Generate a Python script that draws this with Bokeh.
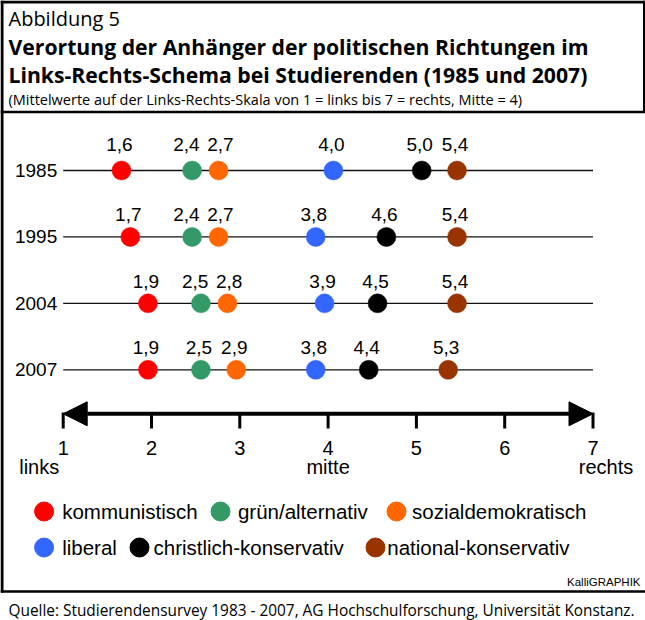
from bokeh.plotting import figure
from bokeh.models import Range1d, Label, Arrow, NormalHead, ColumnDataSource
from bokeh.core.properties import value
from bokeh.embed import file_html
from bokeh.resources import INLINE

# ---------------- data ----------------
years = ["1985", "1995", "2004", "2007"]
parties = ["kommunistisch", "grün/alternativ", "sozialdemokratisch",
           "liberal", "christlich-konservativ", "national-konservativ"]
colors = ["#ff0000", "#339966", "#ff6600", "#3366ff", "#000000", "#993300"]
kommunistisch = [1.6, 1.7, 1.9, 1.9]
gruen_alternativ = [2.4, 2.4, 2.5, 2.5]
sozialdemokratisch = [2.7, 2.7, 2.8, 2.9]
liberal = [4.0, 3.8, 3.9, 3.8]
christlich_konservativ = [5.0, 4.6, 4.5, 4.4]
national_konservativ = [5.4, 5.4, 5.4, 5.3]
series = [kommunistisch, gruen_alternativ, sozialdemokratisch,
          liberal, christlich_konservativ, national_konservativ]
scale_ticks = [1, 2, 3, 4, 5, 6, 7]
scale_tick_labels = ["1", "2", "3", "4", "5", "6", "7"]
pole_values = [1, 4, 7]
pole_labels = ["links", "mitte", "rechts"]

fig_label = "Abbildung 5"
title_lines = ["Verortung der Anhänger der politischen Richtungen im",
               "Links-Rechts-Schema bei Studierenden (1985 und 2007)"]
subtitle = "(Mittelwerte auf der Links-Rechts-Skala von 1 = links bis 7 = rechts, Mitte = 4)"
credit = "KalliGRAPHIK"
source_note = "Quelle: Studierendensurvey 1983 - 2007, AG Hochschulforschung, Universität Konstanz."

# ---------------- layout ----------------
W, H = 645, 620
PX1 = 62.7      # pixel of scale value 1
UNIT = 88.3     # pixels per scale unit
ROW0 = 170.0    # pixel of first row
ROWSTEP = 66.43
DOT_SHIFT = 0.06
x0 = 1 - PX1 / UNIT
x1 = 1 + (W - PX1) / UNIT
y_bot = (H - ROW0) / ROWSTEP
y_top = -ROW0 / ROWSTEP

CHART_FONT = value("Liberation Sans")
TXT_FONT = "Open Sans"

p = figure(width=W, height=H, x_range=Range1d(x0, x1), y_range=Range1d(y_bot, y_top),
           output_backend="svg", toolbar_location=None, min_border=0,
           x_axis_type=None, y_axis_type=None, outline_line_color=None,
           background_fill_color="white", border_fill_color="white")
p.grid.visible = False
p.extra_x_ranges = {"dots": Range1d(x0 - DOT_SHIFT, x1 - DOT_SHIFT), "px": Range1d(0, W)}
p.extra_y_ranges = {"px": Range1d(H, 0)}

rows = list(range(len(years)))

# frame lines
p.segment(x0=[1.5, 0, 643.5, 0, 0], x1=[1.5, W, 643.5, W, W],
          y0=[0, 1.5, 0, 111.5, 591], y1=[592, 1.5, 112, 111.5, 591],
          line_width=[3, 3, 2, 2.5, 2.5], line_color="black",
          x_range_name="px", y_range_name="px")

# row lines
p.segment(x0=[scale_ticks[0]] * len(years), x1=[scale_ticks[-1]] * len(years),
          y0=rows, y1=rows, line_color="#111111", line_width=1.3)

# year labels
p.text(x=[scale_ticks[0]] * len(years), y=rows, text=years, x_offset=-6, y_offset=0,
       text_align="right", text_baseline="middle",
       text_font=CHART_FONT, text_font_size="19px", text_color="black")

# value-label collision avoidance (screen pixels)
MIN_GAP = 34
label_dx = [[-2.0] * len(years) for _ in parties]
for r in rows:
    pos = [(s[r] + DOT_SHIFT - 1) * UNIT + PX1 - 2 for s in series]
    out = list(pos)
    order = sorted(range(len(pos)), key=lambda i: pos[i])
    for a, b in zip(order, order[1:]):
        d = out[b] - out[a]
        if d < MIN_GAP:
            push = (MIN_GAP - d) / 2
            out[a] -= push
            out[b] += push
    for i in range(len(series)):
        label_dx[i][r] = out[i] - pos[i] - 2

label_lift = [-26, -22, -22, -22]
for name, vals, col, dx in zip(parties, series, colors, label_dx):
    src = ColumnDataSource(dict(x=vals, y=rows,
                                lab=[f"{v:.1f}".replace(".", ",") for v in vals],
                                dy=label_lift, dx=dx))
    p.scatter(x="x", y="y", source=src, x_range_name="dots", size=19,
              fill_color=col, line_color=col, line_width=0.5)
    p.text(x="x", y="y", text="lab", source=src, x_range_name="dots",
           x_offset="dx", y_offset="dy",
           text_align="center", text_baseline="middle",
           text_font=CHART_FONT, text_font_size="19px", text_color="black")

# scale arrow
p.add_layout(Arrow(x_start=scale_ticks[0], x_end=scale_ticks[-1], y_start=413.3, y_end=413.3,
                   y_range_name="px", line_width=4, line_color="black",
                   start=NormalHead(size=24, fill_color="black", line_color="black", line_width=1),
                   end=NormalHead(size=24, fill_color="black", line_color="black", line_width=1)))
p.segment(x0=scale_ticks, x1=scale_ticks, y0=[412] * len(scale_ticks), y1=[428] * len(scale_ticks),
          y_range_name="px", line_width=3, line_color="black")
p.text(x=scale_ticks, y=[447.5] * len(scale_ticks), text=scale_tick_labels, y_range_name="px",
       text_align="center", text_baseline="middle",
       text_font=CHART_FONT, text_font_size="20px", text_color="black")
p.text(x=pole_values, y=[466] * len(pole_values), text=pole_labels, x_offset=[-24, 0, 13],
       y_range_name="px", text_align="center", text_baseline="middle",
       text_font=CHART_FONT, text_font_size="20px", text_color="black")

# legend
leg_dot_x = [43.6, 220, 396, 43.6, 139, 375]
leg_text_x = [61.7, 237.4, 411.5, 61.7, 153, 386.8]
leg_y = [511, 511, 511, 547, 547, 547]
p.scatter(x=leg_dot_x, y=leg_y, x_range_name="px", y_range_name="px", size=19,
          fill_color=colors, line_color=colors)
p.text(x=leg_text_x, y=leg_y, text=parties, x_range_name="px", y_range_name="px",
       text_align="left", text_baseline="middle",
       text_font=CHART_FONT, text_font_size="20.5px", text_color="black")

# titles
def lab(txt, x, y, size, style="normal", font=TXT_FONT, align="left"):
    p.add_layout(Label(x=x, y=y, text=txt, x_range_name="px", y_range_name="px",
                       text_font=font, text_font_size=size, text_font_style=style,
                       text_align=align, text_baseline="middle", text_color="black"))

lab(fig_label, 8, 18, "20px")
lab(title_lines[0], 8, 46, "21.2px", "bold")
lab(title_lines[1], 8, 74, "21.2px", "bold")
lab(subtitle, 8, 98.5, "14.5px")
lab(credit, 640, 581, "11.5px", font="Liberation Sans", align="right")
lab(source_note, 8, 610, "15.4px")

open("out.html", "w").write(file_html(p, INLINE))
